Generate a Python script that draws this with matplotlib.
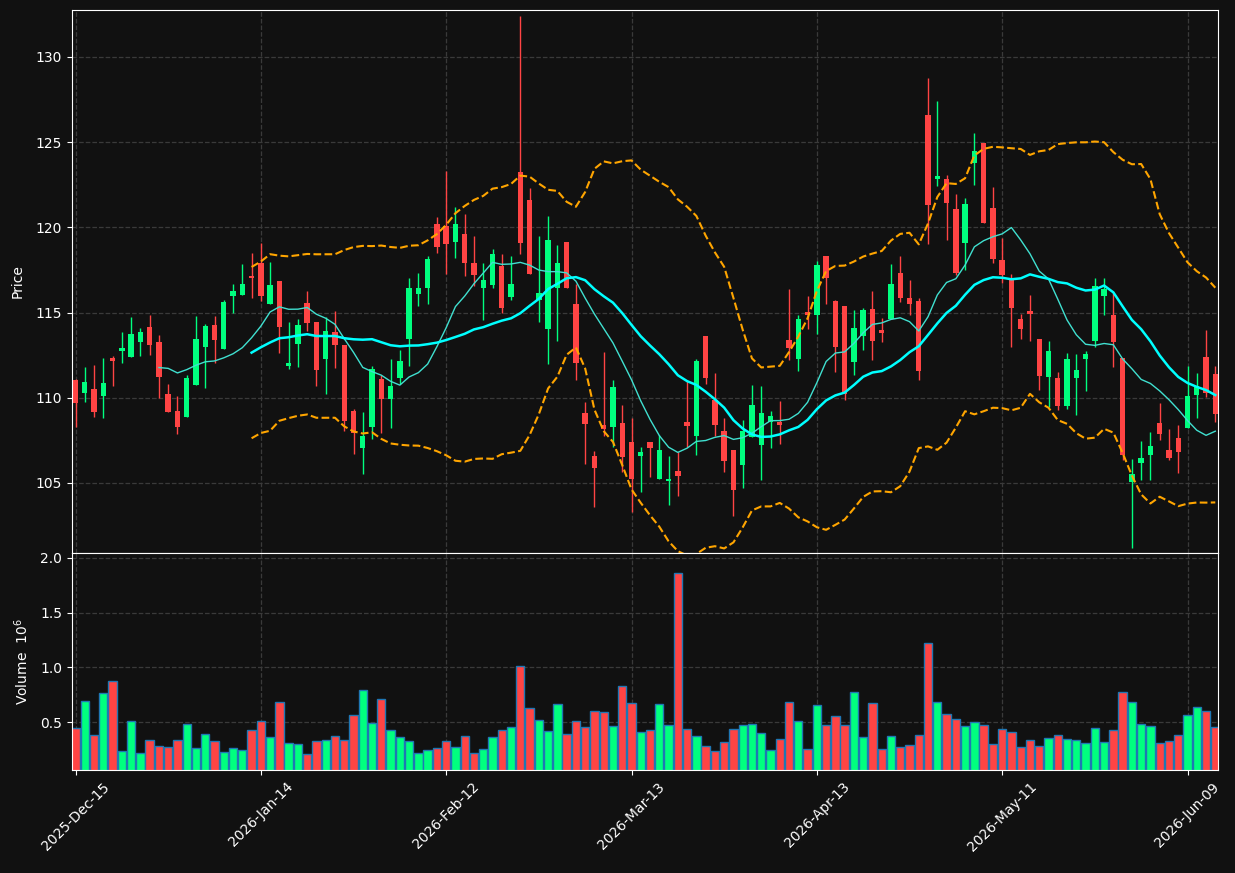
import numpy as np
import pandas as pd
import matplotlib
matplotlib.use('Agg')
import matplotlib.pyplot as plt

# trading days (NYSE holidays skipped)
holidays = ['2025-12-25', '2026-01-01', '2026-01-19', '2026-02-16', '2026-04-03', '2026-05-25']
dates = pd.bdate_range('2025-12-15', '2026-06-12', freq='C', holidays=holidays)

opens = [111.07, 110.26, 110.54, 110.09, 112.32, 112.77, 112.38, 113.26, 114.18, 113.30,
         110.24, 109.25, 108.86, 110.73, 112.98, 114.26, 112.87, 115.96, 116.04, 117.13,
         117.90, 115.51, 116.84, 111.87, 113.16, 115.55, 114.43, 112.28, 113.84, 113.08,
         109.20, 107.04, 108.27, 111.08, 109.92, 111.16, 113.45, 116.10, 116.45, 120.20,
         120.08, 119.12, 119.59, 117.89, 116.44, 116.61, 117.71, 115.91, 123.23, 121.59,
         115.73, 114.03, 116.44, 119.12, 115.48, 109.10, 106.58, 108.40, 108.30, 108.51,
         107.40, 106.59, 107.40, 105.24, 105.13, 105.69, 108.57, 107.77, 113.61, 109.85,
         108.03, 106.92, 106.04, 107.70, 107.21, 108.58, 108.58, 113.38, 112.28, 115.02,
         114.86, 118.31, 115.69, 115.37, 112.10, 113.61, 115.22, 113.96, 114.63, 117.31,
         115.84, 115.67, 126.61, 122.86, 122.84, 121.08, 119.10, 123.80, 124.96, 121.14,
         118.08, 117.00, 114.61, 115.08, 113.43, 111.22, 111.14, 109.51, 111.16, 112.28,
         113.34, 115.98, 114.84, 112.32, 105.06, 106.15, 106.62, 108.50, 106.92, 107.62,
         108.25, 110.17, 112.38, 111.38]
highs = [111.10, 111.83, 111.93, 112.36, 112.46, 113.83, 114.75, 114.12, 114.88, 113.71,
         110.81, 110.13, 111.36, 114.80, 114.30, 114.77, 115.72, 116.70, 117.84, 118.52,
         119.11, 117.99, 116.84, 114.47, 114.65, 116.25, 114.43, 114.75, 115.12, 113.08,
         109.31, 109.18, 111.84, 111.35, 112.29, 112.82, 117.02, 117.35, 118.29, 120.59,
         123.33, 121.19, 120.76, 119.47, 117.93, 118.71, 118.42, 118.30, 132.39, 122.33,
         119.49, 120.67, 118.98, 119.12, 116.65, 109.75, 106.87, 112.66, 111.02, 109.55,
         108.83, 107.12, 107.40, 107.81, 106.56, 106.79, 110.96, 112.27, 113.61, 111.48,
         108.84, 106.92, 108.72, 110.77, 110.71, 109.25, 109.81, 116.41, 114.88, 115.98,
         118.01, 118.31, 115.73, 115.37, 115.14, 115.29, 116.25, 114.69, 117.84, 118.31,
         116.90, 115.84, 128.76, 127.41, 123.08, 121.96, 121.71, 125.53, 124.96, 122.35,
         119.35, 117.24, 114.90, 116.02, 113.43, 113.31, 111.51, 112.65, 112.59, 112.77,
         117.05, 117.05, 116.12, 112.32, 106.43, 107.49, 108.01, 109.72, 108.19, 108.42,
         111.89, 111.48, 114.00, 111.89]
lows = [108.27, 109.74, 108.86, 108.80, 110.71, 112.05, 112.38, 112.44, 112.50, 109.99,
        109.15, 107.88, 108.86, 110.73, 110.60, 112.01, 112.87, 115.00, 116.04, 115.88,
        115.68, 115.51, 112.65, 111.69, 111.81, 113.92, 110.71, 110.24, 111.76, 108.04,
        106.71, 105.53, 107.57, 107.92, 108.24, 110.82, 111.86, 115.41, 115.53, 118.47,
        117.24, 118.20, 117.14, 116.54, 114.58, 116.44, 114.99, 115.75, 118.45, 117.26,
        114.44, 111.96, 113.34, 116.44, 111.02, 106.14, 103.58, 107.73, 107.08, 105.66,
        103.27, 104.44, 105.32, 105.24, 103.68, 104.21, 107.12, 106.61, 110.80, 107.76,
        105.65, 103.06, 104.73, 107.70, 105.20, 107.07, 107.31, 112.24, 111.56, 114.06,
        113.73, 115.53, 111.51, 109.88, 111.35, 112.82, 112.24, 113.27, 114.63, 115.63,
        114.88, 111.06, 119.00, 122.41, 119.24, 117.20, 117.49, 122.47, 120.24, 117.92,
        116.76, 112.98, 113.45, 113.33, 110.47, 109.46, 109.30, 109.35, 109.01, 110.42,
        112.95, 114.88, 111.83, 106.33, 101.16, 105.20, 105.20, 107.52, 106.33, 105.61,
        108.25, 108.84, 110.05, 108.60]
closes = [109.68, 110.95, 109.19, 110.89, 112.18, 112.91, 113.77, 113.88, 113.08, 111.20,
          109.19, 108.27, 111.13, 113.47, 114.20, 113.40, 115.61, 116.25, 116.66, 117.04,
          115.98, 116.60, 114.16, 112.03, 114.26, 114.39, 111.63, 113.90, 113.10, 108.63,
          107.92, 107.78, 111.71, 109.92, 110.67, 112.14, 116.43, 116.43, 118.14, 118.86,
          119.04, 120.18, 117.89, 117.18, 116.89, 118.42, 115.26, 116.65, 119.08, 117.26,
          116.13, 119.26, 117.89, 116.44, 112.03, 108.47, 105.89, 108.18, 110.63, 106.54,
          105.24, 106.81, 107.06, 106.93, 105.23, 105.42, 108.36, 112.15, 111.16, 108.39,
          106.29, 104.57, 108.03, 109.56, 109.09, 108.95, 108.40, 112.93, 114.61, 114.88,
          117.78, 117.05, 112.98, 110.24, 114.10, 115.14, 113.33, 113.80, 116.67, 115.84,
          115.51, 111.57, 121.33, 123.02, 121.45, 117.33, 121.37, 124.49, 120.27, 118.16,
          117.20, 115.27, 114.04, 114.92, 111.27, 112.73, 109.51, 112.25, 111.61, 112.59,
          116.55, 116.37, 113.28, 106.62, 105.51, 106.45, 107.15, 107.88, 106.45, 106.80,
          110.13, 110.66, 110.28, 109.05]
# volume in millions
volumes = [0.452, 0.697, 0.388, 0.770, 0.879, 0.242, 0.515, 0.224, 0.342, 0.288,
           0.279, 0.342, 0.488, 0.270, 0.397, 0.333, 0.233, 0.270, 0.252, 0.433,
           0.515, 0.370, 0.688, 0.315, 0.306, 0.215, 0.333, 0.342, 0.379, 0.342,
           0.570, 0.797, 0.497, 0.715, 0.433, 0.370, 0.333, 0.224, 0.252, 0.270,
           0.333, 0.279, 0.379, 0.224, 0.261, 0.370, 0.433, 0.461, 1.015, 0.633,
           0.524, 0.424, 0.670, 0.397, 0.515, 0.461, 0.606, 0.597, 0.470, 0.833,
           0.679, 0.415, 0.433, 0.670, 0.479, 1.861, 0.442, 0.379, 0.288, 0.242,
           0.324, 0.442, 0.479, 0.488, 0.406, 0.252, 0.352, 0.688, 0.515, 0.261,
           0.661, 0.479, 0.561, 0.479, 0.779, 0.370, 0.679, 0.261, 0.379, 0.279,
           0.297, 0.388, 1.224, 0.688, 0.579, 0.533, 0.470, 0.506, 0.479, 0.306,
           0.442, 0.415, 0.279, 0.342, 0.288, 0.361, 0.388, 0.352, 0.342, 0.315,
           0.452, 0.324, 0.433, 0.779, 0.688, 0.488, 0.470, 0.315, 0.333, 0.388,
           0.570, 0.642, 0.606, 0.461]

bg = '#111111'
up = '#00ff7f'
down = '#ff4444'

df = pd.DataFrame({'Open': opens, 'High': highs, 'Low': lows, 'Close': closes,
                   'Volume': volumes}, index=dates)
x = np.arange(len(df))
ma10 = df['Close'].rolling(10).mean()
ma20 = df['Close'].rolling(20).mean()
sd20 = df['Close'].rolling(20).std(ddof=0)
bb_up = ma20 + 2 * sd20
bb_lo = ma20 - 2 * sd20

colors = np.where(df['Close'] >= df['Open'], up, down)

fig = plt.figure(figsize=(12.35, 8.73), dpi=100, facecolor=bg)
ax1 = fig.add_axes([0.0583, 0.3666, 0.928, 0.622])
ax2 = fig.add_axes([0.0583, 0.118, 0.928, 0.2486], sharex=ax1)

for ax in (ax1, ax2):
    ax.set_facecolor(bg)
    ax.grid(True, linestyle='--', color='#3a3a3a', linewidth=0.9)
    ax.set_axisbelow(True)
    for s in ax.spines.values():
        s.set_color('white')
    ax.tick_params(colors='white', labelsize=10)

# candles
ax1.vlines(x, df['Low'], df['High'], colors=colors, linewidth=1)
body_lo = np.minimum(df['Open'], df['Close'])
body_h = np.maximum(np.abs(df['Close'] - df['Open']), 0.08)
ax1.bar(x, body_h, bottom=body_lo, width=0.58, color=colors, linewidth=0)

ax1.plot(x, ma10, color='#40e0d0', linewidth=1)
ax1.plot(x, ma20, color='cyan', linewidth=1.8)
ax1.plot(x, bb_up, color='orange', linestyle='--', linewidth=1.5)
ax1.plot(x, bb_lo, color='orange', linestyle='--', linewidth=1.5)

ax1.set_ylim(100.89, 132.76)
ax1.set_ylabel('Price', color='white', fontsize=10, labelpad=8)
plt.setp(ax1.get_xticklabels(), visible=False)

# volume
ax2.bar(x, df['Volume'], width=0.9, color=colors, edgecolor='#1f77b4', linewidth=1)
ax2.set_ylim(0.066, 2.043)
ax2.set_yticks([0.5, 1.0, 1.5, 2.0])
ax2.set_ylabel('Volume  $10^{6}$', color='white', fontsize=10, labelpad=7)

ticks = list(range(0, len(df), 20))
ax2.set_xticks(ticks)
ax2.set_xticklabels([dates[i].strftime('%Y-%b-%d') for i in ticks], rotation=45, ha='center')
ax2.set_xlim(-0.38, 123.3)

fig.savefig('out.png', dpi=100, facecolor=bg)
